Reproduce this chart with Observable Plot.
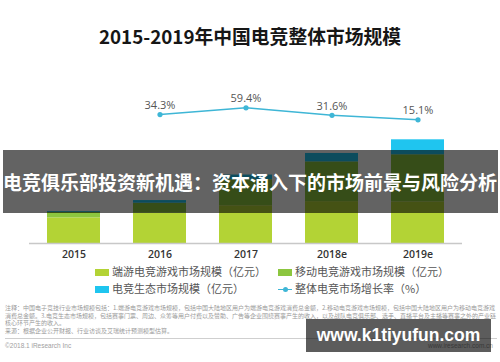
<!DOCTYPE html>
<html><head><meta charset="utf-8">
<script src="https://cdn.jsdelivr.net/npm/d3@7"></script>
<script src="https://cdn.jsdelivr.net/npm/@observablehq/plot@0.6"></script>
<style>
body{margin:0;background:#fff;}
#wrap{position:relative;width:500px;height:362px;overflow:hidden;font-family:"Noto Sans CJK SC",sans-serif;background:#fff;}
.abs{position:absolute;white-space:nowrap;}
#chart{position:absolute;left:0;top:0;}
.sw{position:absolute;width:14px;height:7px;}
</style></head><body><div id="wrap"><div id="chart"></div></div>
<script>
// ---- data ----
const years = ["2015", "2016", "2017", "2018e", "2019e"];
const pcGame = [274, 324, 404, 448, 446];        // 端游电竞游戏市场规模（亿元）
const mobileGame = [59, 107, 278, 425, 503];     // 移动电竞游戏市场规模（亿元）
const ecosystem = [9, 28, 50, 90, 160];          // 电竞生态市场规模（亿元）
const growth = [null, 34.3, 59.4, 31.6, 15.1];   // 整体电竞市场增长率（%）
const seriesNames = ["端游电竞游戏市场规模（亿元）", "移动电竞游戏市场规模（亿元）", "电竞生态市场规模（亿元）"];
const lineName = "整体电竞市场增长率（%）";
const seriesColors = ["#b3d335", "#8cc63f", "#1fc5ef"];
const lineColor = "#3eb6d6";
const title = "2015-2019年中国电竞整体市场规模";
const banner = "电竞俱乐部投资新机遇：资本涌入下的市场前景与风险分析";
const watermark = "www.k1tiyufun.com";
const note = "注释：中国电子竞技行业市场规模包括：1.端游电竞游戏市场规模，包括中国大陆地区用户为端游电竞游戏消费总金额，2.移动电竞游戏市场规模，包括中国大陆地区用户为移动电竞游戏消费总金额。3.电竞生态市场规模，包括赛事门票、周边、众筹等用户付费以及赞助、广告等企业围绕赛事产生的收入，以及战队电竞俱乐部、选手、直播平台及主播等赛事之外的产业链核心环节产生的收入。";
const source = "来源：根据企业公开财报、行业访谈及艾瑞统计预测模型估算。";
const copyright = "©2018.1 iResearch Inc";
const site = "www.iresearch.com.cn";

// ---- tables ----
const seriesValues = [pcGame, mobileGame, ecosystem];
const rows = [];
years.forEach((y, i) => seriesNames.forEach((s, j) => rows.push({year: y, series: s, value: seriesValues[j][i]})));
const rates = years.map((y, i) => ({year: y, rate: growth[i]})).filter(d => d.rate != null);
// secondary (percent) axis mapped onto the bar axis
const pctToBar = r => 1279 + 2.9 * r;

const chart = Plot.plot({
  width: 500, height: 275,
  marginLeft: 29, marginRight: 38, marginTop: 56, marginBottom: 32,
  style: {fontFamily: "'Open Sans', sans-serif", background: "transparent"},
  x: {domain: years, paddingInner: 0.378, paddingOuter: 0.185},
  y: {domain: [0, 2000], axis: null},
  color: {domain: seriesNames, range: seriesColors},
  marks: [
    Plot.barY(rows, {x: "year", y: "value", fill: "series"}),
    Plot.ruleY([0], {stroke: "#c8c8c8", strokeWidth: 1.5}),
    Plot.axisX({tickSize: 0, tickPadding: 7, fontSize: 10.5, fontWeight: 600, fill: "#333", label: null, fontFamily: "'Open Sans', sans-serif"}),
    Plot.line(rates, {x: "year", y: d => pctToBar(d.rate), stroke: lineColor, strokeWidth: 1.5}),
    Plot.dot(rates, {x: "year", y: d => pctToBar(d.rate), fill: lineColor, r: 2.6}),
    Plot.text(rates, {x: "year", y: d => pctToBar(d.rate), text: d => d.rate.toFixed(1) + "%", dy: -9, fill: "#555", fontSize: 11, fontFamily: "'Open Sans', sans-serif"})
  ]
});
document.getElementById("chart").appendChild(chart);

const wrap = document.getElementById("wrap");
function add(html, css) {
  const d = document.createElement("div");
  d.className = "abs";
  d.style.cssText = css;
  d.textContent = html;
  wrap.appendChild(d);
  return d;
}
// title
add(title, "left:0;width:500px;text-align:center;top:27px;font-size:18.8px;line-height:18.8px;font-weight:bold;color:#161616;");

// legend
const legend = [
  {x: 95, y: 272.3, type: "box", color: seriesColors[0], label: seriesNames[0]},
  {x: 278, y: 272.3, type: "box", color: seriesColors[1], label: seriesNames[1]},
  {x: 95, y: 289.3, type: "box", color: seriesColors[2], label: seriesNames[2]},
  {x: 278, y: 289.3, type: "line", color: lineColor, label: lineName}
];
legend.forEach(l => {
  if (l.type === "box") {
    const s = document.createElement("div");
    s.className = "sw";
    s.style.cssText = `left:${l.x}px;top:${l.y - 3.5}px;background:${l.color};`;
    wrap.appendChild(s);
  } else {
    const s = document.createElement("div");
    s.className = "sw";
    s.style.cssText = `left:${l.x}px;top:${l.y - 0.75}px;height:1.5px;background:${l.color};`;
    wrap.appendChild(s);
    const dot = document.createElement("div");
    dot.className = "sw";
    dot.style.cssText = `left:${l.x + 4.5}px;top:${l.y - 2.5}px;width:5px;height:5px;border-radius:50%;background:${l.color};`;
    wrap.appendChild(dot);
  }
  add(l.label, `left:${l.x + 17}px;top:${l.y - 6.2}px;font-size:11px;line-height:11px;color:#555;`);
});

// footnote
const fn = document.createElement("div");
fn.className = "abs";
fn.style.cssText = "left:5px;top:304px;width:493px;white-space:normal;font-size:6px;line-height:7.6px;color:#9a9a9a;word-break:break-all;";
fn.innerHTML = note + "<br>" + source;
wrap.appendChild(fn);
const sep = document.createElement("div");
sep.className = "abs";
sep.style.cssText = "left:5px;top:338px;width:492px;height:1px;background:#cfcfcf;";
wrap.appendChild(sep);
add(copyright, "left:5px;top:342px;font-size:6.5px;line-height:7px;color:#a0a0a0;font-family:'Liberation Sans',sans-serif;");
add(site, "right:7px;top:342px;font-size:6.5px;line-height:7px;color:#a0a0a0;font-family:'Liberation Sans',sans-serif;");

// overlays (watermark banner and box)
const band = document.createElement("div");
band.className = "abs";
band.style.cssText = "left:3px;top:150px;width:495px;height:62.5px;background:rgba(0,0,0,0.61);";
wrap.appendChild(band);
add(banner, "left:0;width:500px;text-align:center;top:172px;font-size:19px;line-height:19px;font-weight:bold;color:#fff;");
const box = document.createElement("div");
box.className = "abs";
box.style.cssText = "left:306px;top:319px;width:185px;height:33px;background:rgba(0,0,0,0.64);display:flex;align-items:center;justify-content:center;color:#fff;font:bold 17.5px 'Liberation Sans',Arial,sans-serif;line-height:1;";
box.textContent = watermark;
wrap.appendChild(box);
</script>
</body></html>
